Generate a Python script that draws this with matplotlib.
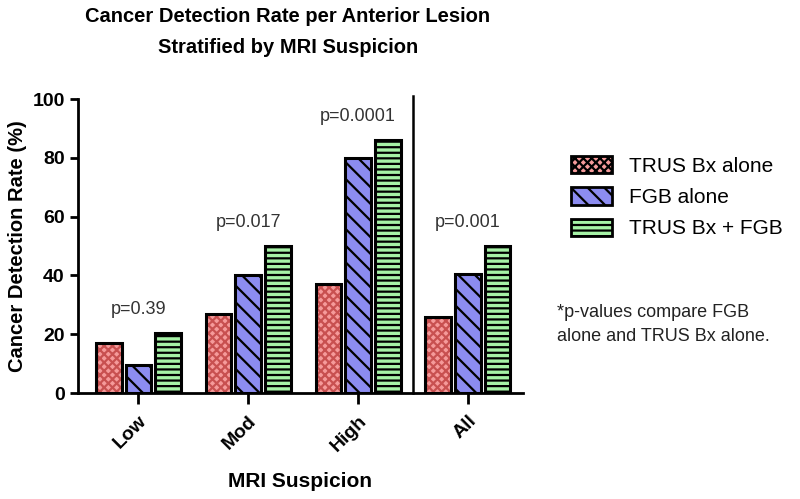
import numpy as np
import matplotlib
matplotlib.use("Agg")
import matplotlib.pyplot as plt
from matplotlib.patches import Patch

#-------------Data-------------
categories = ["Low", "Mod", "High", "All"]
trus_bx = [17, 27, 37, 26]
fgb = [9.5, 40, 80, 40.5]
trus_fgb = [20.5, 50, 86, 50]
p_values = ["p=0.39", "p=0.017", "p=0.0001", "p=0.001"]
series_names = ["TRUS Bx alone", "FGB alone", "TRUS Bx + FGB"]

#-------------Style-------------
fills = ["#f59a9a", "#8c8cf0", "#a6f2a6"]
hatch_colors = ["#c85050", "black", "black"]
hatches = ["xxxx", "\\\\", "---"]

plt.rcParams['font.family'] = ['Liberation Sans', 'DejaVu Sans']
plt.rcParams['hatch.linewidth'] = 1.6

fig = plt.figure(figsize=(8, 4.99), dpi=100)
ax = fig.add_axes([0.0975, 0.2124, 0.556, 0.5892])

x = np.arange(len(categories))
width = 0.235
offsets = [-0.27, 0, 0.27]
all_series = [trus_bx, fgb, trus_fgb]

for vals, off, fc, hc, h in zip(all_series, offsets, fills, hatch_colors, hatches):
    # hatched fill first, then black outline on top
    ax.bar(x + off, vals, width, color=fc, edgecolor=hc, hatch=h, linewidth=0, zorder=2)
    ax.bar(x + off, vals, width, fill=False, edgecolor="black", linewidth=2.2, zorder=3)

group_max = np.max(np.array(all_series), axis=0)
for xi, top, label in zip(x, group_max, p_values):
    ax.text(xi, top + 5, label, ha="center", va="bottom", fontsize=13, color="#333333")

ax.axvline(2.5, ymin=0, ymax=1.01, color="black", linewidth=1.8, clip_on=False)

ax.set_xlim(-0.55, 3.5)
ax.set_ylim(0, 100)
ax.set_yticks(np.arange(0, 101, 20))
ax.set_xticks(x)
ax.set_xticklabels(categories, rotation=45, ha="right", rotation_mode="anchor",
                   fontsize=14, fontweight="bold")
for lbl in ax.get_yticklabels():
    lbl.set_fontsize(14)
    lbl.set_fontweight("bold")

ax.spines["top"].set_visible(False)
ax.spines["right"].set_visible(False)
ax.spines["left"].set_linewidth(2)
ax.spines["bottom"].set_linewidth(2)
ax.tick_params(axis="y", direction="out", width=2, length=6)
ax.tick_params(axis="x", direction="out", width=2, length=8, pad=6)

ax.set_ylabel("Cancer Detection Rate (%)", fontsize=14.5, fontweight="bold", labelpad=4)
ax.set_xlabel("MRI Suspicion", fontsize=15, fontweight="bold", labelpad=12)

fig.suptitle("Cancer Detection Rate per Anterior Lesion\nStratified by MRI Suspicion",
             x=0.36, y=0.985, fontsize=14.5, fontweight="bold", linespacing=1.75)

handles = [Patch(facecolor=fc, edgecolor="black", hatch=h, linewidth=2)
           for fc, h in zip(fills, hatches)]
fig.legend(handles, series_names, loc="upper left", bbox_to_anchor=(0.69, 0.725),
           frameon=False, fontsize=15, handlelength=2.0, handleheight=0.9,
           labelspacing=0.55, handletextpad=0.8)

fig.text(0.696, 0.35, "*p-values compare FGB\nalone and TRUS Bx alone.",
         fontsize=13, color="#222222", va="center", ha="left", linespacing=1.55)

fig.savefig("out.png", dpi=100)
